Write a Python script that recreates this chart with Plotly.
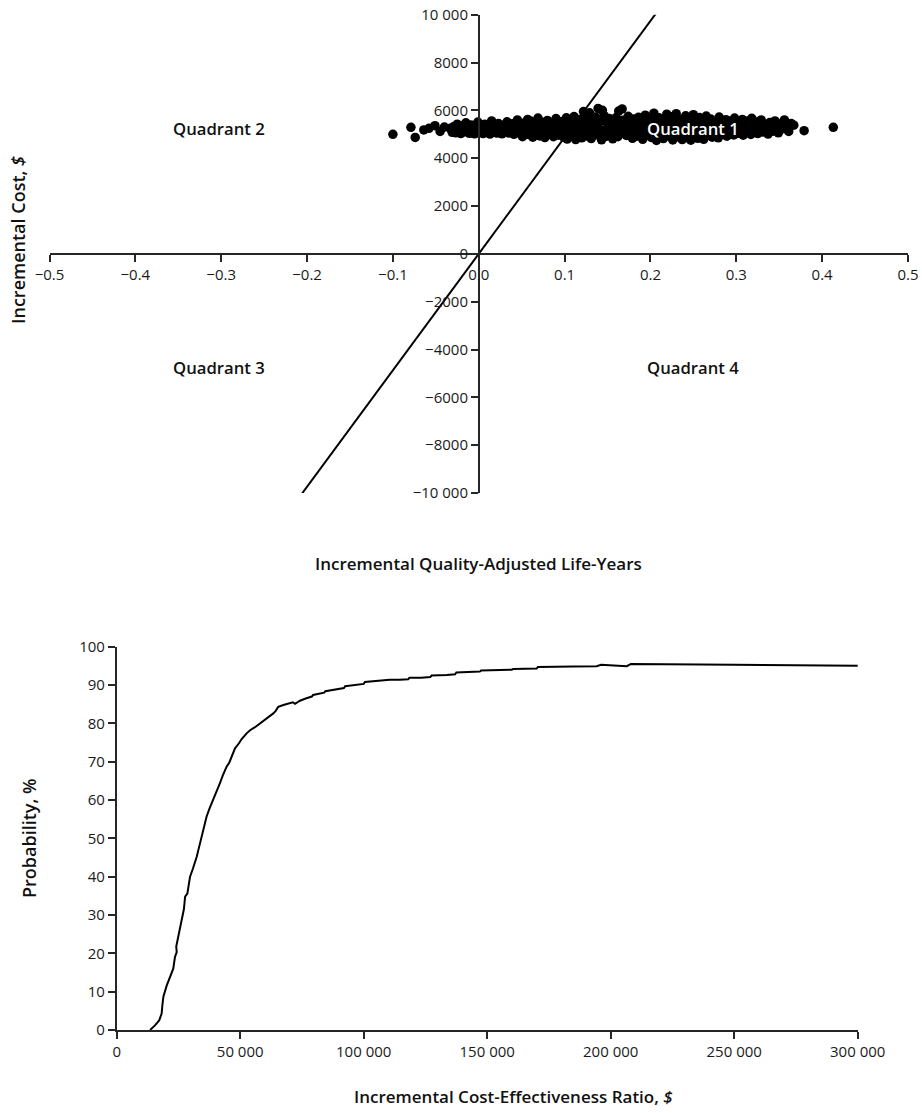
import plotly.graph_objects as go

# ---------------------------------------------------------------------------
# Cost-effectiveness plane: probabilistic sensitivity analysis draws
# (incremental QALYs, incremental cost in $)
# ---------------------------------------------------------------------------
qaly = [
    # scattered draws with negative incremental effect
    -0.100, -0.079, -0.074, -0.064, -0.058, -0.051, -0.045, -0.040, -0.033, -0.031,
    # main band
    -0.029, -0.027, -0.025, -0.023, -0.021, -0.019, -0.017, -0.015, -0.013, -0.011,
    -0.009, -0.007, -0.005, -0.003, -0.001, 0.001, 0.003, 0.005, 0.007, 0.009,
    0.011, 0.013, 0.015, 0.017, 0.019, 0.021, 0.023, 0.025, 0.027, 0.029,
    0.031, 0.033, 0.035, 0.037, 0.039, 0.041, 0.043, 0.045, 0.047, 0.049,
    0.051, 0.053, 0.055, 0.057, 0.058, 0.060, 0.061, 0.063, 0.064, 0.066,
    0.068, 0.069, 0.071, 0.072, 0.074, 0.076, 0.077, 0.079, 0.080, 0.082,
    0.084, 0.085, 0.087, 0.088, 0.090, 0.092, 0.093, 0.095, 0.096, 0.098,
    0.099,
    0.100, 0.101, 0.102, 0.103, 0.104, 0.105, 0.106, 0.107, 0.108, 0.109,
    0.110, 0.111, 0.112, 0.113, 0.114, 0.115, 0.116, 0.117, 0.118, 0.119,
    0.120, 0.121, 0.122, 0.123, 0.124, 0.125, 0.126, 0.127, 0.128, 0.129,
    0.130, 0.131, 0.132, 0.133, 0.134, 0.135, 0.136, 0.137, 0.138, 0.139,
    0.140, 0.141, 0.142, 0.143, 0.144, 0.145, 0.146, 0.147, 0.148, 0.150,
    0.151, 0.152, 0.153, 0.155, 0.156, 0.157, 0.158, 0.160, 0.161, 0.162,
    0.163, 0.164, 0.166, 0.167, 0.168, 0.170, 0.171, 0.172, 0.174, 0.175,
    0.176, 0.178, 0.179, 0.180, 0.182, 0.183, 0.184, 0.186, 0.187, 0.188,
    0.190, 0.191, 0.192, 0.194, 0.195, 0.196, 0.198, 0.199,
    0.200, 0.201, 0.202, 0.204, 0.205, 0.206, 0.207, 0.209, 0.210, 0.211,
    0.213, 0.214, 0.215, 0.217, 0.218, 0.219, 0.221, 0.222, 0.223, 0.225,
    0.226, 0.227, 0.229, 0.230, 0.231, 0.233, 0.234, 0.235, 0.237, 0.238,
    0.239, 0.241, 0.242, 0.243, 0.245, 0.246, 0.247, 0.249, 0.250, 0.251,
    0.253, 0.254, 0.255, 0.257, 0.258, 0.259, 0.261, 0.262, 0.263, 0.265,
    0.266, 0.267, 0.269, 0.270, 0.272, 0.273, 0.274, 0.276, 0.277, 0.279,
    0.280, 0.282, 0.283, 0.285, 0.286, 0.288, 0.289, 0.291, 0.292, 0.294,
    0.295, 0.297, 0.298,
    0.300, 0.302, 0.303, 0.305, 0.307, 0.308, 0.310, 0.312, 0.313, 0.315,
    0.317, 0.318, 0.320, 0.322, 0.324, 0.325, 0.327, 0.329, 0.331, 0.333,
    0.335, 0.337, 0.339, 0.341, 0.343, 0.345, 0.347, 0.349, 0.351, 0.353,
    0.356, 0.358, 0.361, 0.364, 0.367,
    # isolated draws with the largest gains
    0.379, 0.413,
]

cost = [
    5000, 5290, 4870, 5180, 5250, 5360, 5120, 5300, 5250, 5080,
    5320, 5060, 5420, 5210, 5030, 5350, 5100, 5480, 5240, 5040,
    5390, 5150, 5020, 5300, 5510, 5080, 5260, 5030, 5420, 5170,
    5330, 5010, 5560, 5110, 5270, 5050, 5450, 5200, 5020, 5380,
    5140, 5520, 5050, 5290, 5440, 5000, 5180, 5600, 5060, 5340,
    4900, 5470, 5120, 5620, 4990, 5310, 5540, 4880, 5200, 5400,
    5050, 5680, 4930, 5280, 5500, 5130, 4860, 5360, 5580, 5020,
    5250, 5470, 4900, 5170, 5660, 5330, 4960, 5090, 5520, 5240,
    4880,
    5410, 5150, 5690, 4800, 5330, 5010, 5560, 5220, 4920, 5450,
    5080, 5740, 5290, 4780, 5180, 5500, 4990, 5620, 5370, 5060,
    4850, 5260, 5950, 5480, 5120, 4930, 5680, 5340, 5030, 5900,
    5210, 4820, 5550, 5150, 5410, 4960, 5720, 5270, 5080, 6080,
    5490, 5200, 5610, 4770, 6000, 5040, 5780, 5160, 4910, 5440,
    5250, 5660, 4990, 5310, 4810, 5530, 5110, 5700, 5230, 4900,
    5970, 5400, 5060, 6060, 5590, 5180, 5360, 4950, 5750, 5280,
    5020, 5480, 4830, 5640, 5150, 5390, 4920, 5710, 5240, 5050,
    5520, 4790, 5330, 5800, 5100, 4960, 5450, 5210,
    5660, 4870, 5300, 5880, 5070, 5530, 4740, 5200, 5690, 4990,
    5420, 5130, 4820, 5600, 5260, 5840, 4930, 5370, 5050, 5730,
    4760, 5480, 5180, 5860, 4900, 5320, 5620, 5010, 4780, 5440,
    5200, 5770, 4870, 5350, 5080, 5560, 4750, 5250, 5820, 4960,
    5460, 5140, 4830, 5700, 5300, 5020, 5530, 4790, 5220, 5760,
    4940, 5400, 5110, 5640, 4880, 5310, 5060, 5500, 5190, 4850,
    5720, 5270, 4990, 5430, 5120, 5610, 4920, 5350, 5050, 5540,
    5210, 4970, 5680,
    5290, 5040, 5480, 5170, 5620, 4960, 5330, 5100, 5550, 5240,
    4990, 5670, 5380, 5150, 5510, 5030, 5280, 5600, 5090, 5420,
    5200, 5010, 5490, 5270, 5130, 5560, 5350, 5060, 5440, 5220,
    5600, 5300, 5120, 5450, 5380,
    5150, 5290,
]

# Willingness-to-pay threshold line through the origin
wtp_qaly = [-0.206, 0.208]
wtp_cost = [-10030, 10130]

plane_xticks = [-0.5, -0.4, -0.3, -0.2, -0.1, 0, 0.1, 0.2, 0.3, 0.4, 0.5]
plane_yticks = [-10000, -8000, -6000, -4000, -2000, 0, 2000, 4000, 6000, 8000, 10000]
plane_yticktext = ["\u221210 000", "\u22128000", "\u22126000", "\u22124000", "\u22122000",
                   "0", "2000", "4000", "6000", "8000", "10 000"]

quadrant_names = ["Quadrant 1", "Quadrant 2", "Quadrant 3", "Quadrant 4"]
quadrant_qaly = [0.250, -0.302, -0.302, 0.250]
quadrant_cost = [5260, 5260, -4760, -4760]
quadrant_colors = ["white", "#111111", "#111111", "#111111"]

# ---------------------------------------------------------------------------
# Acceptability curve: probability cost-effective vs ICER threshold
# ---------------------------------------------------------------------------
icer_thousands = [
    13.5, 15.5, 17.2, 18.2, 18.5, 18.9, 20.2, 21.6, 22.4, 22.9,
    23.6, 24.3, 24.1, 24.9, 25.6, 26.3, 26.6, 27.2, 27.7, 28.6,
    29.2, 29.7, 30.8, 31.6, 32.4, 33.0, 33.6, 34.4, 35.0, 35.6,
    36.4, 37.6, 39.1, 40.2, 41.0, 41.8, 43.0, 44.5, 45.6, 46.5,
    47.9, 49.5, 50.6, 52.6, 54.0, 56.0, 58.0, 60.0, 62.0, 63.4,
    64.3, 65.4, 67.5, 70.2, 71.3, 72.2, 74.2, 76.5, 79.0, 79.5,
    81.7, 84.0, 84.5, 88.6, 92.0, 92.5, 97.3, 100.0, 100.5, 106.0,
    110.0, 110.5, 114.6, 118.0, 118.5, 123.3, 127.0, 127.5, 133.7, 137.0,
    137.5, 144.1, 147.0, 147.5, 154.5, 160.0, 160.5, 164.9, 170.0, 170.5,
    175.3, 185.0, 194.3, 196.1, 206.5, 208.2, 250.0, 301.0,
]
probability = [
    0.0, 1.2, 2.5, 4.3, 6.5, 8.7, 11.5, 13.9, 15.2, 16.0,
    19.1, 20.3, 21.8, 24.3, 26.0, 28.7, 29.5, 31.5, 34.8, 35.6,
    38.0, 40.0, 42.0, 43.5, 45.2, 46.8, 48.5, 50.4, 52.0, 53.4,
    55.7, 57.8, 60.0, 62.0, 63.2, 64.4, 66.5, 68.7, 69.8, 71.3,
    73.5, 74.8, 75.9, 77.4, 78.2, 79.0, 80.0, 80.9, 81.8, 82.6,
    83.2, 84.3, 84.8, 85.4, 85.5, 85.1, 85.9, 86.5, 87.0, 87.4,
    87.6, 88.0, 88.4, 88.8, 89.2, 89.7, 90.0, 90.3, 90.8, 91.1,
    91.2, 91.4, 91.4, 91.5, 91.9, 91.9, 92.1, 92.5, 92.6, 92.8,
    93.3, 93.4, 93.5, 93.8, 93.9, 94.0, 94.2, 94.2, 94.3, 94.7,
    94.8, 94.85, 94.9, 95.3, 94.9, 95.5, 95.3, 95.0,
]

curve_xticks = [0, 50000, 100000, 150000, 200000, 250000, 300000]
curve_xticktext = ["0", "50 000", "100 000", "150 000", "200 000", "250 000", "300 000"]
curve_yticks = [0, 10, 20, 30, 40, 50, 60, 70, 80, 90, 100]

# ---------------------------------------------------------------------------
# Layout geometry (page pixels)
# ---------------------------------------------------------------------------
W, H = 922, 1113


def fx(px):
    return px / W


def fy(px):
    return 1 - px / H


FAMILY = "Open Sans, Noto Sans, sans-serif"
TICK_FONT = dict(family=FAMILY, size=15, color="#1a1a1a")
XTITLE_FONT = dict(family=FAMILY, size=17, color="#111111", weight=600)
YTITLE_FONT = dict(family=FAMILY, size=18, color="#111111", weight=600)
AXIS_COLOR = "#262626"

plane_xdom = [fx(49.5), fx(908.0)]
plane_ydom = [fy(493.0), fy(14.7)]
plane_xrange = [-0.5, 0.5]
plane_yrange = [-10000, 10000]

# axes cross at the origin
x_at_zero = plane_xdom[0] + (0 - plane_xrange[0]) / (plane_xrange[1] - plane_xrange[0]) * (plane_xdom[1] - plane_xdom[0])
y_at_zero = plane_ydom[0] + (0 - plane_yrange[0]) / (plane_yrange[1] - plane_yrange[0]) * (plane_ydom[1] - plane_ydom[0])

curve_xdom = [fx(116.7), fx(857.7)]
curve_ydom = [fy(1030.0), fy(646.7)]

fig = go.Figure()

fig.add_trace(go.Scatter(
    x=qaly, y=cost, mode="markers",
    marker=dict(color="black", size=9.5, line=dict(width=0)),
    xaxis="x", yaxis="y", showlegend=False, hoverinfo="skip",
))
fig.add_trace(go.Scatter(
    x=wtp_qaly, y=wtp_cost, mode="lines",
    line=dict(color="black", width=2),
    xaxis="x", yaxis="y", showlegend=False, hoverinfo="skip",
))
fig.add_trace(go.Scatter(
    x=[v * 1000 for v in icer_thousands], y=probability, mode="lines",
    line=dict(color="black", width=2),
    xaxis="x2", yaxis="y2", showlegend=False, hoverinfo="skip",
))

axis_common = dict(
    showline=True, linecolor=AXIS_COLOR, linewidth=1.5,
    ticks="outside", tickcolor=AXIS_COLOR, tickwidth=1.5, ticklen=7,
    showgrid=False, zeroline=False, tickfont=TICK_FONT,
    automargin=False, fixedrange=True,
)

annotations = []
for name, qx, cy, col in zip(quadrant_names, quadrant_qaly, quadrant_cost, quadrant_colors):
    annotations.append(dict(
        x=qx, y=cy, xref="x", yref="y", text=name, showarrow=False,
        font=dict(family=FAMILY, size=16.7, color=col, weight=600),
        xanchor="center", yanchor="middle",
    ))

titles = [
    ("Incremental Cost, <i>$</i>", fx(18), fy(240), -90, YTITLE_FONT),
    ("Incremental Quality-Adjusted Life-Years", fx(478), fy(563), 0, XTITLE_FONT),
    ("Probability, %", fx(29), fy(838), -90, YTITLE_FONT),
    ("Incremental Cost-Effectiveness Ratio, <i>$</i>", fx(513), fy(1096), 0, XTITLE_FONT),
]
for text, ax, ay, ang, fnt in titles:
    annotations.append(dict(
        x=ax, y=ay, xref="paper", yref="paper", text=text, showarrow=False,
        textangle=ang, font=fnt, xanchor="center", yanchor="middle",
    ))

fig.update_layout(
    width=W, height=H,
    margin=dict(l=0, r=0, t=0, b=0),
    paper_bgcolor="white", plot_bgcolor="white",
    xaxis=dict(
        domain=plane_xdom, range=plane_xrange, anchor="free", position=y_at_zero,
        tickvals=plane_xticks, tickformat=".1f", **axis_common,
    ),
    yaxis=dict(
        domain=plane_ydom, range=plane_yrange, anchor="free", position=x_at_zero,
        tickvals=plane_yticks, ticktext=plane_yticktext, **axis_common,
    ),
    xaxis2=dict(
        domain=curve_xdom, range=[0, 300000], anchor="y2",
        tickvals=curve_xticks, ticktext=curve_xticktext, **axis_common,
    ),
    yaxis2=dict(
        domain=curve_ydom, range=[0, 100], anchor="x2",
        tickvals=curve_yticks, **axis_common,
    ),
    annotations=annotations,
)

fig.write_html("out.html")
